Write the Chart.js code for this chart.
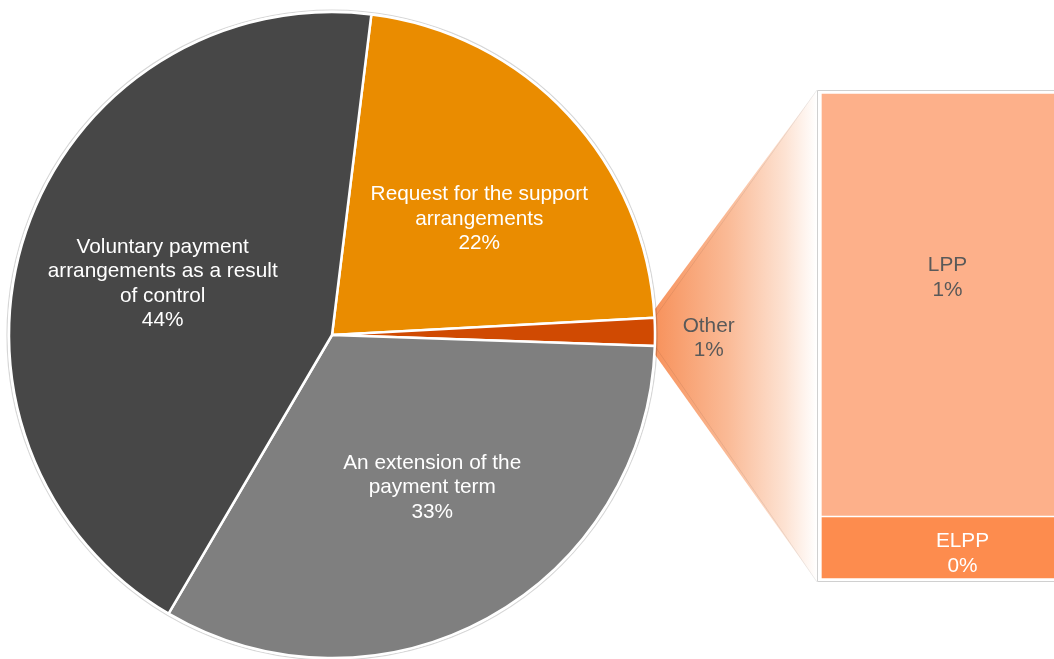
<!DOCTYPE html>
<html>
<head>
<meta charset="utf-8">
<script src="https://cdn.jsdelivr.net/npm/chart.js@4.4.1/dist/chart.umd.min.js"></script>
<style>
  html, body { margin: 0; padding: 0; background: #ffffff; overflow: hidden; }
  #wrap { position: relative; width: 1054px; height: 659px; overflow: hidden; }
  canvas { position: absolute; left: 0; top: 0; }
</style>
</head>
<body>
<div id="wrap">
  <canvas id="barCanvas" width="1100" height="659"></canvas>
  <canvas id="pieCanvas" width="1054" height="659"></canvas>
</div>
<script>
// Main pie: reasons for payment arrangements (share, %)
const pieLabels = [
  ["Request for the support", "arrangements"],
  ["Other"],
  ["An extension of the", "payment term"],
  ["Voluntary payment", "arrangements as a result", "of control"]
];
const pieValues = [22.2, 1.4, 32.9, 43.5];
const pieColors = ["#EA8C00", "#D04A02", "#7F7F7F", "#474747"];
const pieTextColors = ["#FFFFFF", "#595959", "#FFFFFF", "#FFFFFF"];

// Breakdown of "Other" (share, %)
const barLabels = ["ELPP", "LPP"];
const barValues = [0.18, 1.22];
const barColors = ["#FD8C4E", "#FDB08A"];
const barTextColors = ["#FFFFFF", "#595959"];

const FONT = '20.8px "Liberation Sans", Arial, sans-serif';
const LINE_H = 24.5;
const pct = v => Math.round(v) + "%";

function drawLines(ctx, lines, x, y, color) {
  ctx.save();
  ctx.font = FONT;
  ctx.fillStyle = color;
  ctx.textAlign = "center";
  ctx.textBaseline = "middle";
  const top = y - (lines.length - 1) * LINE_H / 2;
  lines.forEach((t, i) => ctx.fillText(t, x, top + i * LINE_H));
  ctx.restore();
}

// Slice labels: placed along each slice's mid angle, nudged like the original layout
const sliceLabelPlugin = {
  id: "sliceLabels",
  afterDatasetsDraw(chart) {
    const ctx = chart.ctx;
    const arcs = chart.getDatasetMeta(0).data;
    const tweak = [
      { f: 0.59, dx: 8, dy: 14 },
      { f: 1.16, dx: 2, dy: 7 },
      { f: 0.56, dx: 13, dy: -6 },
      { f: 0.56, dx: 2, dy: 7 }
    ];
    arcs.forEach((arc, i) => {
      const mid = (arc.startAngle + arc.endAngle) / 2;
      const r = arc.outerRadius * tweak[i].f;
      const x = arc.x + Math.cos(mid) * r + tweak[i].dx;
      const y = arc.y + Math.sin(mid) * r + tweak[i].dy;
      drawLines(ctx, pieLabels[i].concat(pct(pieValues[i])), x, y, pieTextColors[i]);
    });
  }
};

// Faint outer rim around the pie
const rimPlugin = {
  id: "rim",
  beforeDatasetsDraw(chart) {
    const arc = chart.getDatasetMeta(0).data[0];
    const ctx = chart.ctx;
    ctx.save();
    ctx.beginPath();
    ctx.arc(arc.x, arc.y, arc.outerRadius + 2, 0, Math.PI * 2);
    ctx.strokeStyle = "rgba(0,0,0,0.16)";
    ctx.lineWidth = 1.2;
    ctx.stroke();
    ctx.restore();
  }
};

const pie = new Chart(document.getElementById("pieCanvas"), {
  type: "pie",
  data: {
    labels: pieLabels.map(l => l.join(" ")),
    datasets: [{
      data: pieValues,
      backgroundColor: pieColors,
      borderColor: "#FFFFFF",
      borderWidth: 2.5,
      radius: 323
    }]
  },
  options: {
    responsive: false,
    animation: false,
    devicePixelRatio: 1,
    rotation: 7,
    layout: { padding: { left: 9, right: 399, top: 12, bottom: 1 } },
    plugins: { legend: { display: false }, tooltip: { enabled: false } }
  },
  plugins: [rimPlugin, sliceLabelPlugin]
});

// Connector from the "Other" slice to the breakdown bar, plus the bar frame
const connectorPlugin = {
  id: "connector",
  beforeDatasetsDraw(chart) {
    const ctx = chart.ctx;
    const other = pie.getDatasetMeta(0).data[1];
    const area = chart.chartArea;
    const p1 = { x: other.x + Math.cos(other.startAngle) * other.outerRadius,
                 y: other.y + Math.sin(other.startAngle) * other.outerRadius };
    const p4 = { x: other.x + Math.cos(other.endAngle) * other.outerRadius,
                 y: other.y + Math.sin(other.endAngle) * other.outerRadius };
    const left = area.left - 4, top = area.top - 3, bottom = area.bottom + 3;
    ctx.save();
    const g = ctx.createLinearGradient(p1.x, 0, left, 0);
    g.addColorStop(0, "rgba(247,146,92,1)");
    g.addColorStop(0.45, "rgba(250,186,150,1)");
    g.addColorStop(0.8, "rgba(253,226,210,1)");
    g.addColorStop(1, "rgba(255,255,255,1)");
    ctx.beginPath();
    ctx.moveTo(p1.x - 6, p1.y);
    ctx.lineTo(left, top);
    ctx.lineTo(left, bottom);
    ctx.lineTo(p4.x - 6, p4.y);
    ctx.closePath();
    ctx.fillStyle = g;
    ctx.fill();
    ctx.beginPath();
    ctx.moveTo(p1.x, p1.y);
    ctx.lineTo(left, top);
    ctx.moveTo(p4.x, p4.y);
    ctx.lineTo(left, bottom);
    ctx.strokeStyle = "rgba(0,0,0,0.07)";
    ctx.lineWidth = 1;
    ctx.stroke();
    // frame around the bar
    ctx.beginPath();
    ctx.rect(left + 0.5, top + 0.5, chart.width, bottom - top - 1);
    ctx.strokeStyle = "#D0D0D0";
    ctx.lineWidth = 1;
    ctx.stroke();
    ctx.fillStyle = "#FFFFFF";
    ctx.fillRect(left + 1, top + 1, chart.width, bottom - top - 2);
    ctx.restore();
  },
  afterDatasetsDraw(chart) {
    const ctx = chart.ctx;
    const offsets = [{ dx: 2, dy: 6 }, { dx: -13, dy: -27 }];
    chart.data.datasets.forEach((ds, i) => {
      const el = chart.getDatasetMeta(i).data[0];
      const x = el.x + offsets[i].dx;
      const y = (el.y + el.base) / 2 + offsets[i].dy;
      drawLines(ctx, [barLabels[i], pct(barValues[i])], x, y, barTextColors[i]);
    });
  }
};

const bar = new Chart(document.getElementById("barCanvas"), {
  type: "bar",
  data: {
    labels: ["Other"],
    datasets: barLabels.map((name, i) => ({
      label: name,
      data: [barValues[i]],
      backgroundColor: barColors[i],
      borderColor: "#FFFFFF",
      borderWidth: 1,
      borderSkipped: false,
      categoryPercentage: 1,
      barPercentage: 1
    }))
  },
  options: {
    responsive: false,
    animation: false,
    devicePixelRatio: 1,
    layout: { padding: { left: 821, right: 0, top: 93, bottom: 80 } },
    scales: {
      x: { stacked: true, display: false },
      y: { stacked: true, display: false, min: 0, max: barValues.reduce((a, b) => a + b, 0) }
    },
    plugins: { legend: { display: false }, tooltip: { enabled: false } }
  },
  plugins: [connectorPlugin]
});
</script>
</body>
</html>
